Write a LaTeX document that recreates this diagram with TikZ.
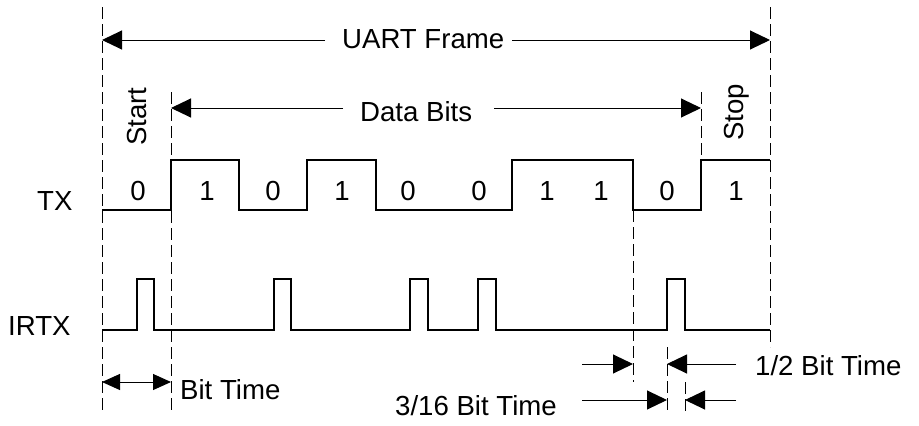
\documentclass[tikz,border=0pt]{standalone}
\usepackage{fontspec}
\setmainfont{Liberation Sans}
\usetikzlibrary{arrows.meta}
\begin{document}
\begin{tikzpicture}[x=1pt,y=-1pt,
  lbl/.style={inner sep=0pt,font=\fontsize{27.6}{33}\selectfont},
  wave/.style={line width=1.1pt},
  guide/.style={line width=1pt,dash pattern=on 12pt off 5pt},
  dimarrow/.style={line width=1pt,-{Triangle[length=20pt,width=19pt]}},
  smallarrow/.style={line width=1pt,{Triangle[length=18pt,width=16pt]}-{Triangle[length=18pt,width=16pt]}}]
\useasboundingbox (0,0) rectangle (919,426);
% coordinates
\coordinate (L0) at (102,7);   \coordinate (L1) at (102,413);
\coordinate (D0) at (171,92);  \coordinate (D1) at (171,413);
\coordinate (E0) at (701,92);  \coordinate (E1) at (701,160);
\coordinate (R0) at (770,7);   \coordinate (R1) at (770,347);
\coordinate (F0) at (633,210); \coordinate (F1) at (633,382);
\coordinate (P0) at (667,347); \coordinate (P1) at (667,413);
\coordinate (Q0) at (685,382); \coordinate (Q1) at (685,413);
% guide lines
\draw[guide] (L0) -- (L1);
\draw[guide] (D0) -- (D1);
\draw[guide] (E0) -- (E1);
\draw[guide] (R0) -- (R1);
\draw[guide] (F0) -- (F1);
\draw[guide] (P0) -- (P1);
\draw[guide] (Q0) -- (Q1);
% TX waveform
\draw[wave] (102,210) -- (171,210) -- (171,160) -- (239,160) -- (239,210) -- (307,210) -- (307,160) -- (376,160) -- (376,210) -- (512,210) -- (512,160) -- (633,160) -- (633,210) -- (701,210) -- (701,160) -- (770,160);
% IRTX waveform
\draw[wave] (102,330) -- (137,330) -- (137,279) -- (154,279) -- (154,330) -- (274,330) -- (274,279) -- (291,279) -- (291,330) -- (410,330) -- (410,279) -- (428,279) -- (428,330) -- (478,330) -- (478,279) -- (496,279) -- (496,330) -- (667,330) -- (667,279) -- (685,279) -- (685,330) -- (770,330);
% labels
\node[lbl,anchor=base west] (uart) at (342,48) {UART Frame};
\node[lbl,anchor=base west] (data) at (360,121) {Data Bits};
\node[lbl,anchor=base west] (tx) at (37,210) {TX};
\node[lbl,anchor=base west] (irtx) at (8,335) {IRTX};
\node[lbl,anchor=base west] (bt) at (180,399) {Bit Time};
\node[lbl,anchor=base west] (bt316) at (395,415) {3/16 Bit Time};
\node[lbl,anchor=base west] (bt12) at (755,375) {1/2 Bit Time};
\node[lbl,anchor=base,rotate=90] (start) at (146,116.5) {Start};
\node[lbl,anchor=base,rotate=90] (stop) at (743,112.5) {Stop};
\foreach \x/\d [count=\i] in {138/0,207/1,273/0,342/1,408/0,479/0,547/1,601/1,667/0,736/1}
  \node[lbl,anchor=base] (b\i) at (\x,200) {\d};
% dimension arrows
\coordinate (ua) at (325,40);  \coordinate (uat) at (102,40);
\coordinate (ub) at (512,40);  \coordinate (ubt) at (770,40);
\draw[dimarrow] (ua) -- (uat);
\draw[dimarrow] (ub) -- (ubt);
\coordinate (da) at (343,108); \coordinate (dat) at (171,108);
\coordinate (db) at (494,108); \coordinate (dbt) at (701,108);
\draw[dimarrow] (da) -- (dat);
\draw[dimarrow] (db) -- (dbt);
\coordinate (bta) at (102,382); \coordinate (btb) at (171,382);
\draw[smallarrow] (bta) -- (btb);
\coordinate (ha) at (582,364); \coordinate (hat) at (633,364);
\coordinate (hb) at (736,364); \coordinate (hbt) at (667,364);
\draw[dimarrow] (ha) -- (hat);
\draw[dimarrow] (hb) -- (hbt);
\coordinate (sa) at (582,400); \coordinate (sat) at (667,400);
\coordinate (sb) at (736,400); \coordinate (sbt) at (685,400);
\draw[dimarrow] (sa) -- (sat);
\draw[dimarrow] (sb) -- (sbt);
\end{tikzpicture}
\end{document}
